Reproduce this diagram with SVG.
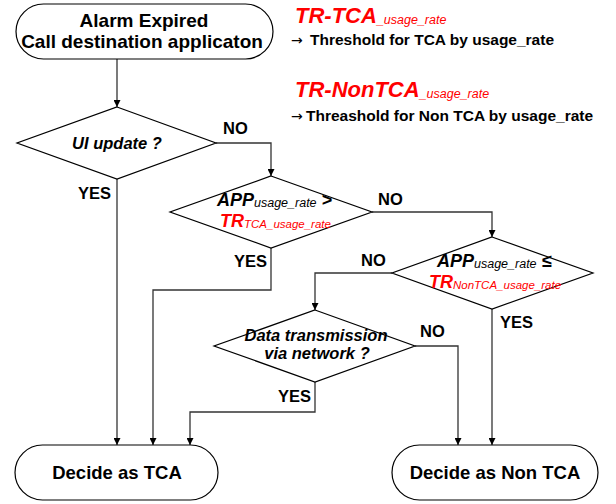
<svg xmlns="http://www.w3.org/2000/svg" width="616" height="504" viewBox="0 0 616 504">
<style>
text{font-family:"Liberation Sans",Arial,sans-serif;fill:#000}
.node{fill:#fff;stroke:#000;stroke-width:1.2}
.t{font-size:19px;font-weight:bold;text-anchor:middle}
.te{font-size:18.5px;font-weight:bold;text-anchor:middle}
.q{font-size:16.5px;font-weight:bold;font-style:italic;text-anchor:middle}
.lbl{font-size:16.5px;font-weight:bold}
.big{font-size:18px;font-weight:bold;font-style:italic}
.sub{font-size:12.5px;font-style:italic}
.sub2{font-size:11.5px;font-style:italic}
.red{fill:#ff0000}
.conn{fill:none;stroke:#333;stroke-width:1.3;marker-end:url(#arr)}
.note{font-size:15.5px;font-weight:bold}
.arrowch{font-size:14px;font-weight:normal;font-family:"DejaVu Sans",sans-serif}
</style>
<defs>
<marker id="arr" viewBox="0 0 10 10" refX="10" refY="5" markerWidth="7.5" markerHeight="7" markerUnits="userSpaceOnUse" orient="auto">
<path d="M0,0 L10,5 L0,10 z" fill="#000"/>
</marker>
</defs>

<g id="connectors">
<path class="conn" d="M117,59 V107"/>
<path class="conn" d="M216,143 H271 V176"/>
<path class="conn" d="M117,179 V445"/>
<path class="conn" d="M271,248 V290 H153 V445"/>
<path class="conn" d="M372,212 H492 V237"/>
<path class="conn" d="M392,273 H315 V310"/>
<path class="conn" d="M492,309 V445"/>
<path class="conn" d="M415,346 H458 V445"/>
<path class="conn" d="M315,382 V412 H190 V445"/>
</g>

<g id="start">
<rect class="node" x="16" y="4" width="257" height="55" rx="27.5" ry="27.5"/>
<text class="t" x="144" y="27">Alarm Expired</text>
<text class="t" x="142" y="48">Call destination applicaton</text>
</g>

<g id="legend">
<text x="295" y="23" class="red"><tspan class="red" font-size="22" font-weight="bold" font-style="italic">TR-TCA</tspan><tspan class="red sub" dy="1">_usage_rate</tspan></text>
<text y="45" class="note"><tspan x="291" class="arrowch">→</tspan><tspan x="310">Threshold for TCA by usage_rate</tspan></text>
<text x="295" y="97" class="red"><tspan class="red" font-size="22" font-weight="bold" font-style="italic">TR-NonTCA</tspan><tspan class="red sub" dy="1">_usage_rate</tspan></text>
<text y="121" class="note"><tspan x="291" class="arrowch">→</tspan><tspan x="306">Threashold for Non TCA by usage_rate</tspan></text>
</g>

<g id="d1">
<polygon class="node" points="117,107 216,143 117,179 17,143"/>
<text class="q" x="117" y="149" font-size="17">UI update ?</text>
</g>

<g id="d2">
<polygon class="node" points="271,176 372,212 271,248 170,212"/>
<text x="217" y="206"><tspan class="big">APP</tspan><tspan class="sub" dy="1">usage_rate</tspan><tspan class="big" dy="-1"> &gt;</tspan></text>
<text x="220" y="227"><tspan class="big red">TR</tspan><tspan class="sub2 red" dy="1">TCA_usage_rate</tspan></text>
</g>

<g id="d3">
<polygon class="node" points="492,237 593,273 492,309 392,273"/>
<text x="437" y="267"><tspan class="big">APP</tspan><tspan class="sub" dy="1">usage_rate</tspan><tspan class="big" dy="-1"> ≤</tspan></text>
<text x="429" y="288"><tspan class="big red">TR</tspan><tspan class="sub2 red" dy="1">NonTCA_usage_rate</tspan></text>
</g>

<g id="d4">
<polygon class="node" points="315,310 415,346 315,382 214,346"/>
<text class="q" x="316" y="341" font-size="16">Data transmission</text>
<text class="q" x="317" y="359" font-size="16">via network ?</text>
</g>

<g id="tca">
<rect class="node" x="15" y="445" width="203" height="55" rx="27.5" ry="27.5"/>
<text class="te" x="117" y="479">Decide as TCA</text>
</g>

<g id="nontca">
<rect class="node" x="392" y="445" width="206" height="55" rx="27.5" ry="27.5"/>
<text class="te" x="495" y="479">Decide as Non TCA</text>
</g>

<g id="labels">
<text class="lbl" x="223" y="134">NO</text>
<text class="lbl" x="78" y="199">YES</text>
<text class="lbl" x="378" y="205">NO</text>
<text class="lbl" x="234" y="267">YES</text>
<text class="lbl" x="361" y="266">NO</text>
<text class="lbl" x="500" y="328">YES</text>
<text class="lbl" x="420" y="337">NO</text>
<text class="lbl" x="278" y="402">YES</text>
</g>
</svg>
